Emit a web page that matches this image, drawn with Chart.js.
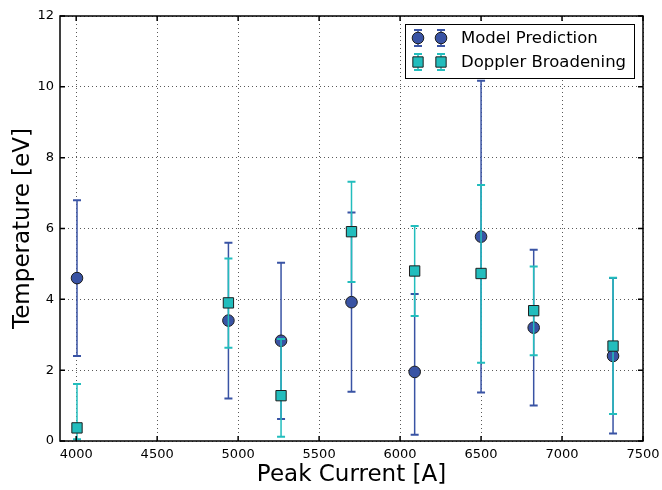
<!DOCTYPE html>
<html><head><meta charset="utf-8">
<script src="https://cdn.jsdelivr.net/npm/chart.js@4.4.0/dist/chart.umd.min.js"></script>
<style>html,body{margin:0;padding:0;background:#fff}canvas{display:block}</style>
</head><body>
<canvas id="c" width="662" height="490" style="width:662px;height:490px"></canvas>
<script>
// ---- data ----
const peakCurrent = [4005, 4940, 5265, 5700, 6090, 6500, 6825, 7315];
const modelTemp = [4.6, 3.4, 2.83, 3.92, 1.95, 5.77, 3.2, 2.4];
const modelLow = [2.4, 1.2, 0.62, 1.39, 0.18, 1.37, 1.0, 0.21];
const modelHigh = [6.8, 5.6, 5.03, 6.45, 4.15, 10.17, 5.4, 4.6];
const dopplerTemp = [0.37, 3.9, 1.28, 5.91, 4.8, 4.73, 3.68, 2.68];
const dopplerLow = [0.05, 2.63, 0.12, 4.49, 3.53, 2.21, 2.42, 0.76];
const dopplerHigh = [1.61, 5.15, 2.88, 7.32, 6.07, 7.23, 4.93, 4.61];
const xTickValues = [4000, 4500, 5000, 5500, 6000, 6500, 7000, 7500];
const yTickValues = [0, 2, 4, 6, 8, 10, 12];
const seriesNames = ['Model Prediction', 'Doppler Broadening'];

const FONT = "'DejaVu Sans', sans-serif";
const BLUE = '#3953a4';
const CYAN = '#22bdbd';
const EDGE = '#1e1e1e';

function drawErr(ctx, px, yl, yh, color) {
  ctx.strokeStyle = color;
  ctx.lineWidth = 1.5;
  ctx.beginPath(); ctx.moveTo(px, yl); ctx.lineTo(px, yh); ctx.stroke();
  ctx.lineWidth = 2;
  ctx.beginPath();
  ctx.moveTo(px - 4, yl); ctx.lineTo(px + 4, yl);
  ctx.moveTo(px - 4, yh); ctx.lineTo(px + 4, yh);
  ctx.stroke();
}

const errorBarPlugin = {
  id: 'errorBars',
  beforeDatasetDraw(chart, args) {
    const ds = chart.data.datasets[args.index];
    const eb = ds.errorBars;
    if (!eb) return;
    const xs = chart.scales.x, ys = chart.scales.y, ctx = chart.ctx;
    ctx.save();
    ds.data.forEach((p, i) => {
      drawErr(ctx, xs.getPixelForValue(p.x), ys.getPixelForValue(eb.low[i]), ys.getPixelForValue(eb.high[i]), eb.color);
    });
    ctx.restore();
  }
};

function drawMarker(ctx, style, x, y, r, fill) {
  ctx.fillStyle = fill; ctx.strokeStyle = EDGE; ctx.lineWidth = 1;
  ctx.beginPath();
  if (style === 'circle') ctx.arc(x, y, r, 0, Math.PI * 2);
  else { const s = Math.SQRT1_2 * r; ctx.rect(x - s, y - s, 2 * s, 2 * s); }
  ctx.fill(); ctx.stroke();
}

const framePlugin = {
  id: 'frame',
  afterDraw(chart) {
    const {ctx, chartArea: a} = chart;
    const xs = chart.scales.x, ys = chart.scales.y;
    ctx.save();
    ctx.strokeStyle = '#000';
    ctx.lineWidth = 1.5;
    ctx.strokeRect(a.left, a.top, a.right - a.left, a.bottom - a.top);
    ctx.lineWidth = 1.5;
    ctx.beginPath();
    xTickValues.forEach(v => {
      const px = xs.getPixelForValue(v);
      ctx.moveTo(px, a.bottom); ctx.lineTo(px, a.bottom - 5);
      ctx.moveTo(px, a.top); ctx.lineTo(px, a.top + 5);
    });
    yTickValues.forEach(v => {
      const py = ys.getPixelForValue(v);
      ctx.moveTo(a.left, py); ctx.lineTo(a.left + 5, py);
      ctx.moveTo(a.right, py); ctx.lineTo(a.right - 5, py);
    });
    ctx.stroke();

    // legend
    const L = {x1: 405.5, y1: 24.5, x2: 634.5, y2: 78.5};
    ctx.fillStyle = '#fff';
    ctx.fillRect(L.x1, L.y1, L.x2 - L.x1, L.y2 - L.y1);
    ctx.strokeStyle = '#000'; ctx.lineWidth = 1;
    ctx.strokeRect(L.x1, L.y1, L.x2 - L.x1, L.y2 - L.y1);
    const rows = [
      {label: seriesNames[0], y: 38, color: BLUE, style: 'circle', r: 5.8},
      {label: seriesNames[1], y: 62, color: CYAN, style: 'rect', r: 7.3}
    ];
    rows.forEach(row => {
      [418, 441].forEach(mx => {
        drawErr(ctx, mx, row.y + 8, row.y - 8, row.color);
        drawMarker(ctx, row.style, mx, row.y, row.r, row.color);
      });
      ctx.fillStyle = '#000';
      ctx.font = '16.5px ' + FONT;
      ctx.textBaseline = 'middle';
      ctx.textAlign = 'left';
      ctx.fillText(row.label, 461, row.y + 1);
    });
    ctx.restore();
  }
};

new Chart(document.getElementById('c'), {
  type: 'scatter',
  data: {
    datasets: [
      {
        label: seriesNames[0],
        data: peakCurrent.map((x, i) => ({x, y: modelTemp[i]})),
        pointStyle: 'circle', pointRadius: 5.8, pointHoverRadius: 5.8,
        backgroundColor: BLUE, borderColor: EDGE, borderWidth: 1,
        order: 2,
        errorBars: {low: modelLow, high: modelHigh, color: BLUE}
      },
      {
        label: seriesNames[1],
        data: peakCurrent.map((x, i) => ({x, y: dopplerTemp[i]})),
        pointStyle: 'rect', pointRadius: 7.3, pointHoverRadius: 7.3,
        backgroundColor: CYAN, borderColor: EDGE, borderWidth: 1,
        order: 1,
        errorBars: {low: dopplerLow, high: dopplerHigh, color: CYAN}
      }
    ]
  },
  options: {
    responsive: false,
    animation: false,
    devicePixelRatio: 1,
    layout: {padding: {left: 0, right: 19, top: 16, bottom: 0}},
    plugins: {legend: {display: false}, tooltip: {enabled: false}},
    scales: {
      x: {
        type: 'linear', min: 3900, max: 7500,
        afterBuildTicks: s => { s.ticks = xTickValues.map(v => ({value: v})); },
        afterFit: s => { s.height = 49; s.paddingLeft = 0; s.paddingRight = 0; },
        grid: {color: 'rgba(0,0,0,0.65)', lineWidth: 1, drawTicks: false, borderDash: [1, 3]},
        border: {display: false, dash: [1, 3]},
        ticks: {color: '#000', font: {family: FONT, size: 13}, padding: 6, maxRotation: 0, callback: v => String(v)},
        title: {display: true, text: 'Peak Current [A]', color: '#000', font: {family: FONT, size: 23}, padding: {top: 0, bottom: 1}}
      },
      y: {
        type: 'linear', min: 0, max: 12,
        afterBuildTicks: s => { s.ticks = yTickValues.map(v => ({value: v})); },
        afterFit: s => { s.width = 60; s.paddingTop = 0; s.paddingBottom = 0; },
        grid: {color: 'rgba(0,0,0,0.65)', lineWidth: 1, drawTicks: false, borderDash: [1, 3]},
        border: {display: false, dash: [1, 3]},
        ticks: {color: '#000', font: {family: FONT, size: 13}, padding: 6, callback: v => String(v)},
        title: {display: true, text: 'Temperature [eV]', color: '#000', font: {family: FONT, size: 23}, padding: {top: 9, bottom: 0}}
      }
    }
  },
  plugins: [errorBarPlugin, framePlugin]
});
</script></body></html>
